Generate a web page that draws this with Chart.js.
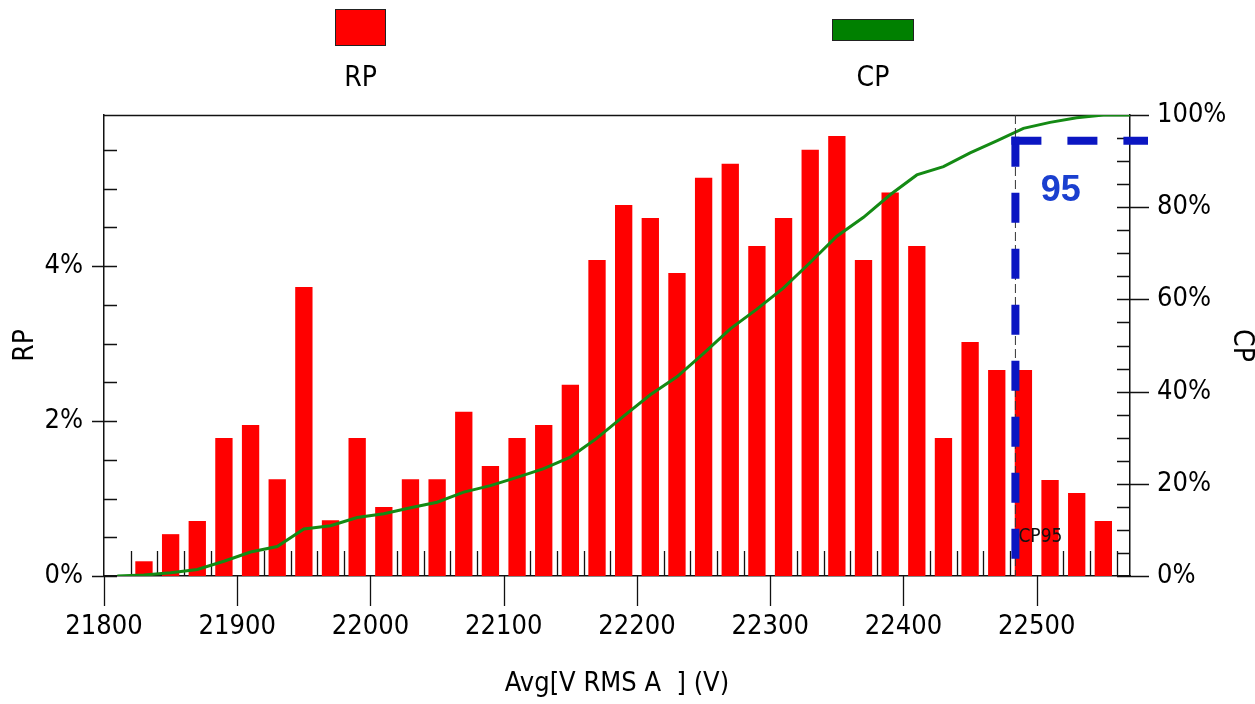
<!DOCTYPE html>
<html>
<head>
<meta charset="utf-8">
<title>RP / CP</title>
<script src="https://cdn.jsdelivr.net/npm/chart.js@4.4.1/dist/chart.umd.min.js"></script>
<style>
  html, body { margin: 0; padding: 0; background: #fff; }
  #wrap { width: 1255px; height: 704px; }
</style>
</head>
<body>
<div id="wrap"><canvas id="chart" width="1255" height="704"></canvas></div>
<script>
// 20 V bins, centre of each bin (V)
const binCenters = [21830, 21850, 21870, 21890, 21910, 21930, 21950, 21970, 21990, 22010,
  22030, 22050, 22070, 22090, 22110, 22130, 22150, 22170, 22190, 22210,
  22230, 22250, 22270, 22290, 22310, 22330, 22350, 22370, 22390, 22410,
  22430, 22450, 22470, 22490, 22510, 22530, 22550];
// RP, share of samples per bin (%)
const rpValues = [0.19, 0.54, 0.71, 1.78, 1.95, 1.25, 3.73, 0.72, 1.78, 0.89,
  1.25, 1.25, 2.12, 1.42, 1.78, 1.95, 2.47, 4.08, 4.79, 4.62,
  3.91, 5.14, 5.32, 4.26, 4.62, 5.50, 5.68, 4.08, 4.95, 4.26,
  1.78, 3.02, 2.66, 2.66, 1.24, 1.07, 0.71];
// CP curve (%)
const cpX = [21810, 21830, 21850, 21870, 21890, 21910, 21930, 21950, 21970, 21990,
  22010, 22030, 22050, 22070, 22090, 22110, 22130, 22150, 22170, 22190,
  22210, 22230, 22250, 22270, 22290, 22310, 22330, 22350, 22370, 22390,
  22410, 22430, 22450, 22470, 22490, 22510, 22530, 22550, 22570];
const cpValues = [0, 0.2, 0.7, 1.4, 3.2, 5.2, 6.4, 10.2, 10.9, 12.7,
  13.5, 14.8, 16.0, 18.2, 19.6, 21.4, 23.3, 25.8, 29.9, 34.7,
  39.3, 43.2, 48.3, 53.6, 57.9, 62.5, 68.0, 73.7, 77.8, 82.7,
  87.0, 88.8, 91.8, 94.4, 97.1, 98.4, 99.4, 100, 100];

const xTickValues = [21800, 21900, 22000, 22100, 22200, 22300, 22400, 22500];
const xTickLabels = ['21800', '21900', '22000', '22100', '22200', '22300', '22400', '22500'];
const rpTickValues = [0, 2, 4];
const rpTickLabels = ['0%', '2%', '4%'];
const cpTickValues = [0, 20, 40, 60, 80, 100];
const cpTickLabels = ['0%', '20%', '40%', '60%', '80%', '100%'];

const cp95Volt = 22484;
const cp95Level = 94.4;

const FONT = "'Liberation Sans Narrow', 'DejaVu Sans Condensed', 'Liberation Sans', sans-serif";
const INK = '#111';

// small tick marks: inner minor ticks + outer major ticks, like the original tool draws them
const tickMarks = {
  id: 'tickMarks',
  beforeDatasetsDraw(chart) {
    const { ctx, chartArea: a, scales: { x, y, y2 } } = chart;
    ctx.save();
    ctx.strokeStyle = INK;
    ctx.lineWidth = 1.3;
    ctx.beginPath();
    // top frame line
    ctx.moveTo(a.left, a.top + 0.5);
    ctx.lineTo(a.right, a.top + 0.5);
    for (let v = 0; v <= y.max + 1e-9; v += 0.5) {
      const py = Math.round(y.getPixelForValue(v)) + 0.5;
      const major = Math.abs(v / 2 - Math.round(v / 2)) < 1e-9;
      ctx.moveTo(major ? a.left - 12 : a.left, py);
      ctx.lineTo(a.left + 13, py);
    }
    for (let v = 0; v <= 100; v += 5) {
      const py = Math.round(y2.getPixelForValue(v)) + 0.5;
      ctx.moveTo(a.right - 13, py);
      ctx.lineTo(v % 20 === 0 ? a.right + 19 : a.right, py);
    }
    for (let v = 21820; v <= 22560; v += 20) {
      if (v % 100 === 0) continue;
      const px = Math.round(x.getPixelForValue(v)) + 0.5;
      ctx.moveTo(px, a.bottom - 25);
      ctx.lineTo(px, a.bottom);
    }
    for (let v = 21800; v <= 22500; v += 100) {
      const px = Math.round(x.getPixelForValue(v)) + 0.5;
      ctx.moveTo(px, a.bottom);
      ctx.lineTo(px, a.bottom + 30);
    }
    ctx.stroke();
    ctx.restore();
  }
};

const cp95Marker = {
  id: 'cp95Marker',
  afterDatasetsDraw(chart) {
    const { ctx, chartArea: a, scales: { x, y2 } } = chart;
    const px = x.getPixelForValue(cp95Volt);
    const py = y2.getPixelForValue(cp95Level);
    ctx.save();
    ctx.strokeStyle = '#333';
    ctx.lineWidth = 1;
    ctx.setLineDash([9, 4]);
    ctx.beginPath();
    ctx.moveTo(px, a.top);
    ctx.lineTo(px, a.bottom);
    ctx.stroke();
    ctx.setLineDash([]);
    ctx.fillStyle = INK;
    ctx.font = '19px ' + FONT;
    ctx.textAlign = 'left';
    ctx.textBaseline = 'middle';
    ctx.fillText('CP95', px + 3, y2.getPixelForValue(8.5));

    ctx.strokeStyle = '#0b16c2';
    ctx.lineWidth = 8;
    ctx.lineCap = 'butt';
    ctx.setLineDash([30, 26]);
    ctx.beginPath();
    ctx.moveTo(px, py - 4);
    ctx.lineTo(px, y2.getPixelForValue(2.8));
    ctx.stroke();
    ctx.beginPath();
    ctx.moveTo(px - 4, py);
    ctx.lineTo(a.right + 18, py);
    ctx.stroke();

    ctx.fillStyle = '#1a3fcf';
    ctx.font = "bold 36px 'Liberation Sans', Arial, sans-serif";
    ctx.textAlign = 'center';
    ctx.fillText('95', x.getPixelForValue(22518), y2.getPixelForValue(83.5));
    ctx.restore();
  }
};

// legend: swatch on top, name underneath
const topLegend = {
  id: 'topLegend',
  afterDraw(chart) {
    const ctx = chart.ctx;
    const boxes = { RP: [335, 9, 51, 37], CP: [832, 19, 82, 22] };
    ctx.save();
    chart.data.datasets.forEach(ds => {
      const b = boxes[ds.label];
      ctx.fillStyle = ds.type === 'line' ? '#008000' : ds.backgroundColor;
      ctx.fillRect(b[0], b[1], b[2], b[3]);
      ctx.strokeStyle = '#222';
      ctx.lineWidth = 1;
      ctx.strokeRect(b[0] + 0.5, b[1] + 0.5, b[2] - 1, b[3] - 1);
      ctx.fillStyle = '#000';
      ctx.font = '28px ' + FONT;
      ctx.textAlign = 'center';
      ctx.textBaseline = 'middle';
      ctx.fillText(ds.label, b[0] + b[2] / 2, 79);
    });
    ctx.restore();
  }
};

const tickFont = { family: FONT, size: 27 };

new Chart(document.getElementById('chart'), {
  type: 'bar',
  data: {
    datasets: [
      {
        type: 'line',
        label: 'CP',
        data: cpX.map((v, i) => ({ x: v, y: cpValues[i] })),
        yAxisID: 'y2',
        borderColor: '#148a14',
        borderWidth: 3,
        pointRadius: 0,
        tension: 0,
        order: 0
      },
      {
        type: 'bar',
        label: 'RP',
        data: binCenters.map((v, i) => ({ x: v, y: rpValues[i] })),
        yAxisID: 'y',
        backgroundColor: '#ff0000',
        borderWidth: 0,
        barPercentage: 0.65,
        categoryPercentage: 1,
        order: 1
      }
    ]
  },
  options: {
    responsive: false,
    animation: false,
    devicePixelRatio: 1,
    layout: { padding: { top: 115, left: 0, right: 0, bottom: 0 } },
    plugins: { legend: { display: false }, tooltip: { enabled: false } },
    scales: {
      x: {
        type: 'linear',
        min: 21800,
        max: 22570,
        offset: false,
        grid: { display: false, drawTicks: false, offset: false },
        border: { display: true, color: INK, width: 1.5 },
        afterBuildTicks: s => { s.ticks = xTickValues.map(v => ({ value: v })); },
        ticks: {
          color: '#000', font: tickFont, padding: 35, maxRotation: 0, autoSkip: false,
          callback: (v, i) => xTickLabels[i]
        },
        title: {
          display: true, text: 'Avg[V RMS A  ] (V)', color: '#000',
          font: { family: FONT, size: 27 }, padding: { top: 0, bottom: 4 }
        },
        afterFit: s => { s.height = 128; }
      },
      y: {
        type: 'linear',
        position: 'left',
        min: 0,
        max: 5.95,
        grid: { display: false, drawTicks: false },
        border: { display: true, color: INK, width: 1.5 },
        afterBuildTicks: s => { s.ticks = rpTickValues.map(v => ({ value: v })); },
        ticks: { color: '#000', font: tickFont, padding: 21, callback: (v, i) => rpTickLabels[i] },
        title: {
          display: true, text: 'RP', color: '#000',
          font: { family: FONT, size: 28, lineHeight: 1.2 }, padding: { top: 9, bottom: 0 }
        },
        afterFit: s => { s.width = 104; }
      },
      y2: {
        type: 'linear',
        position: 'right',
        min: 0,
        max: 100,
        grid: { display: false, drawTicks: false },
        border: { display: true, color: INK, width: 1.5 },
        afterBuildTicks: s => { s.ticks = cpTickValues.map(v => ({ value: v })); },
        ticks: { color: '#000', font: tickFont, padding: 27, callback: (v, i) => cpTickLabels[i] },
        title: {
          display: true, text: 'CP', color: '#000',
          font: { family: FONT, size: 28, lineHeight: 1 }, padding: { top: 0, bottom: 0 }
        },
        afterFit: s => { s.width = 125; }
      }
    }
  },
  plugins: [tickMarks, cp95Marker, topLegend]
});
</script>
</body>
</html>
